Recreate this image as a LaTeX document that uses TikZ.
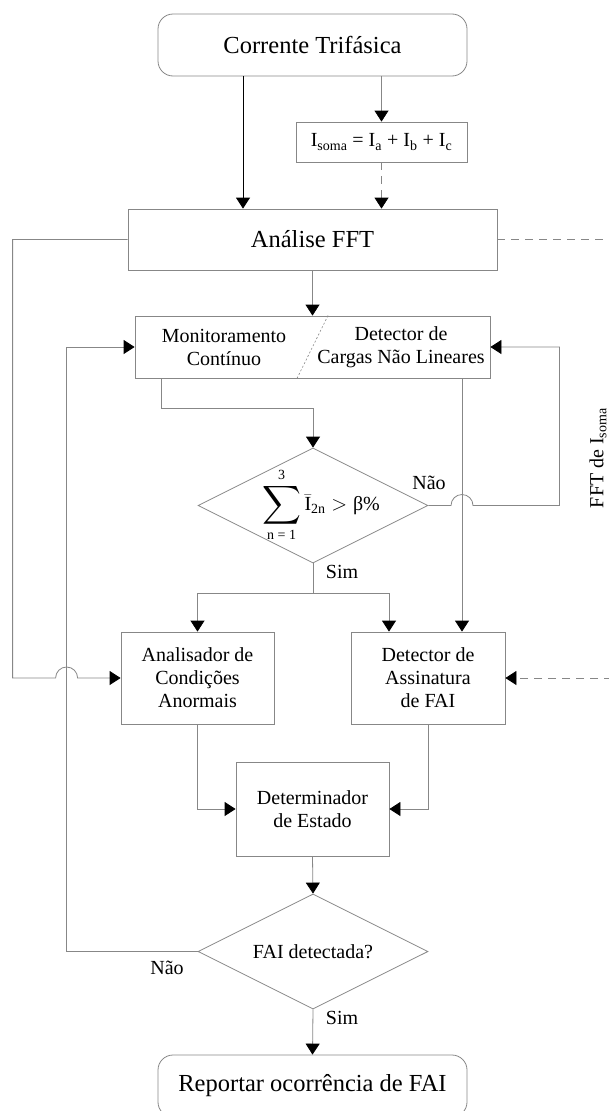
\documentclass[tikz,border=0pt]{standalone}
\usepackage{amsmath}
\usepackage{graphicx}
\usepackage{fontspec}
\setmainfont{Liberation Serif}
\usetikzlibrary{shapes.geometric,arrows.meta,calc}
\definecolor{linegray}{RGB}{135,135,135}

\begin{document}
\begin{tikzpicture}[x=1pt,y=-1pt,
    >={Triangle[width=14pt,length=11pt,color=black]},
    wire/.style={draw=linegray,line width=0.8pt},
    flow/.style={wire,->},
    dashflow/.style={flow,dash pattern=on 8pt off 6pt},
    box/.style={wire,rectangle,align=center,inner sep=0pt,font=\fontsize{20}{23}\selectfont},
    endbox/.style={box,rounded corners=15pt,minimum width=309pt,minimum height=62pt,font=\fontsize{24.5}{28}\selectfont},
    decision/.style={wire,diamond,aspect=2,inner sep=0pt,minimum width=230pt,minimum height=115pt,font=\fontsize{20}{23}\selectfont},
    lbl/.style={font=\fontsize{20}{23}\selectfont}]

  \useasboundingbox (0,0) rectangle (609,1111);

  % blocos
  \node[endbox] (ct) at (312.5,45) {Corrente Trifásica};
  \node[box,minimum width=171pt,minimum height=40pt] (soma) at (381.5,142)
    {I\textsubscript{soma} = I\textsubscript{a} + I\textsubscript{b} + I\textsubscript{c}};
  \node[box,minimum width=369pt,minimum height=61pt,font=\fontsize{24.5}{28}\selectfont] (fft) at (312.5,239.5) {Análise FFT};
  \node[box,minimum width=355pt,minimum height=62pt] (mon) at (312.5,347) {};
  \node[lbl,align=center] (monA) at (224,347) {Monitoramento\\Contínuo};
  \node[lbl,align=center] (monB) at (401,347) {Detector de\\Cargas Não Lineares};
  \draw[linegray,line width=0.6pt,dash pattern=on 2pt off 2pt] ([xshift=15.5pt]mon.north) -- ([xshift=-15.5pt]mon.south);
  \node[decision] (dec1) at (313,505.5) {};
  \node[lbl] (soma1) at (321,505)
    {$\displaystyle\mathop{\vcenter{\hbox{\scalebox{1.3}{$\displaystyle\sum$}}}}\limits_{\text{n = 1}}^{\text{3}}\bar{\text{I}}_{\text{2n}} > \text{β\%}$};
  \node[box,minimum width=153pt,minimum height=92pt] (ana) at (197.5,678) {Analisador de\\Condições\\Anormais};
  \node[box,minimum width=154pt,minimum height=92pt] (ass) at (428,678) {Detector de\\Assinatura\\de FAI};
  \node[box,minimum width=153pt,minimum height=94pt] (det) at (312.5,809) {Determinador\\de Estado};
  \node[decision] (dec2) at (313,951.5) {FAI detectada?};
  \node[endbox] (rep) at (312.5,1086) {Reportar ocorrência de FAI};

  % rotulos
  \node[lbl] (nao1) at (429,483) {Não};
  \node[lbl] (sim1) at (342,572) {Sim};
  \node[lbl] (nao2) at (167,968) {Não};
  \node[lbl] (sim2) at (342,1018) {Sim};
  \node[lbl,rotate=90] (fftlbl) at (598,458) {FFT de I\textsubscript{soma}};

  % pontos auxiliares
  \coordinate (lbus) at ([xshift=-115pt]fft.west);
  \coordinate (lret) at ([xshift=-68pt]mon.west);
  \coordinate (rtap) at ([xshift=34pt]ass.north);
  \coordinate (rbus) at ([xshift=69pt]mon.east);
  \coordinate (edge) at (612,0);

  % ligacoes
  \draw[flow,draw=black] ([xshift=-69.5pt]ct.south) -- ([xshift=-69.5pt]fft.north);
  \draw[flow] (ct.south -| soma.north) -- (soma.north);
  \draw[dashflow] (soma.south) -- (soma.south |- fft.north);
  \draw[flow] (fft.south) -- (mon.north);
  \draw[wire,dash pattern=on 8pt off 6pt] (fft.east) -- (fft.east -| edge);
  \draw[flow] (fft.west) -- (lbus) -- (lbus |- ana.west)
    -- ($(lret |- ana.west)+(-11,0)$) arc[start angle=180,end angle=0,radius=11pt] -- (ana.west);
  \draw[flow] ([xshift=27pt]mon.south west) -- ++(0,30) -| (dec1.north);
  \draw[flow] (mon.south -| rtap) -- (rtap);
  \draw[flow] (dec1.east) -- ($(rtap |- dec1.east)+(-11,0)$) arc[start angle=180,end angle=0,radius=11pt]
    -- (rbus |- dec1.east) -- (rbus) -- (mon.east);
  \draw[wire] (dec1.south) -- ++(0,30) coordinate (split);
  \draw[flow] (split) -| (ana.north);
  \draw[flow] (split) -| ([xshift=-39pt]ass.north);
  \draw[dashflow] (ass.east -| edge) -- (ass.east);
  \draw[flow] (ana.south) |- (det.west);
  \draw[flow] (ass.south) |- (det.east);
  \draw[flow] (det.south) -- (dec2.north);
  \draw[flow] (dec2.west) -| (lret) -- (mon.west);
  \draw[flow] (dec2.south) -- (rep.north);
\end{tikzpicture}
\end{document}
